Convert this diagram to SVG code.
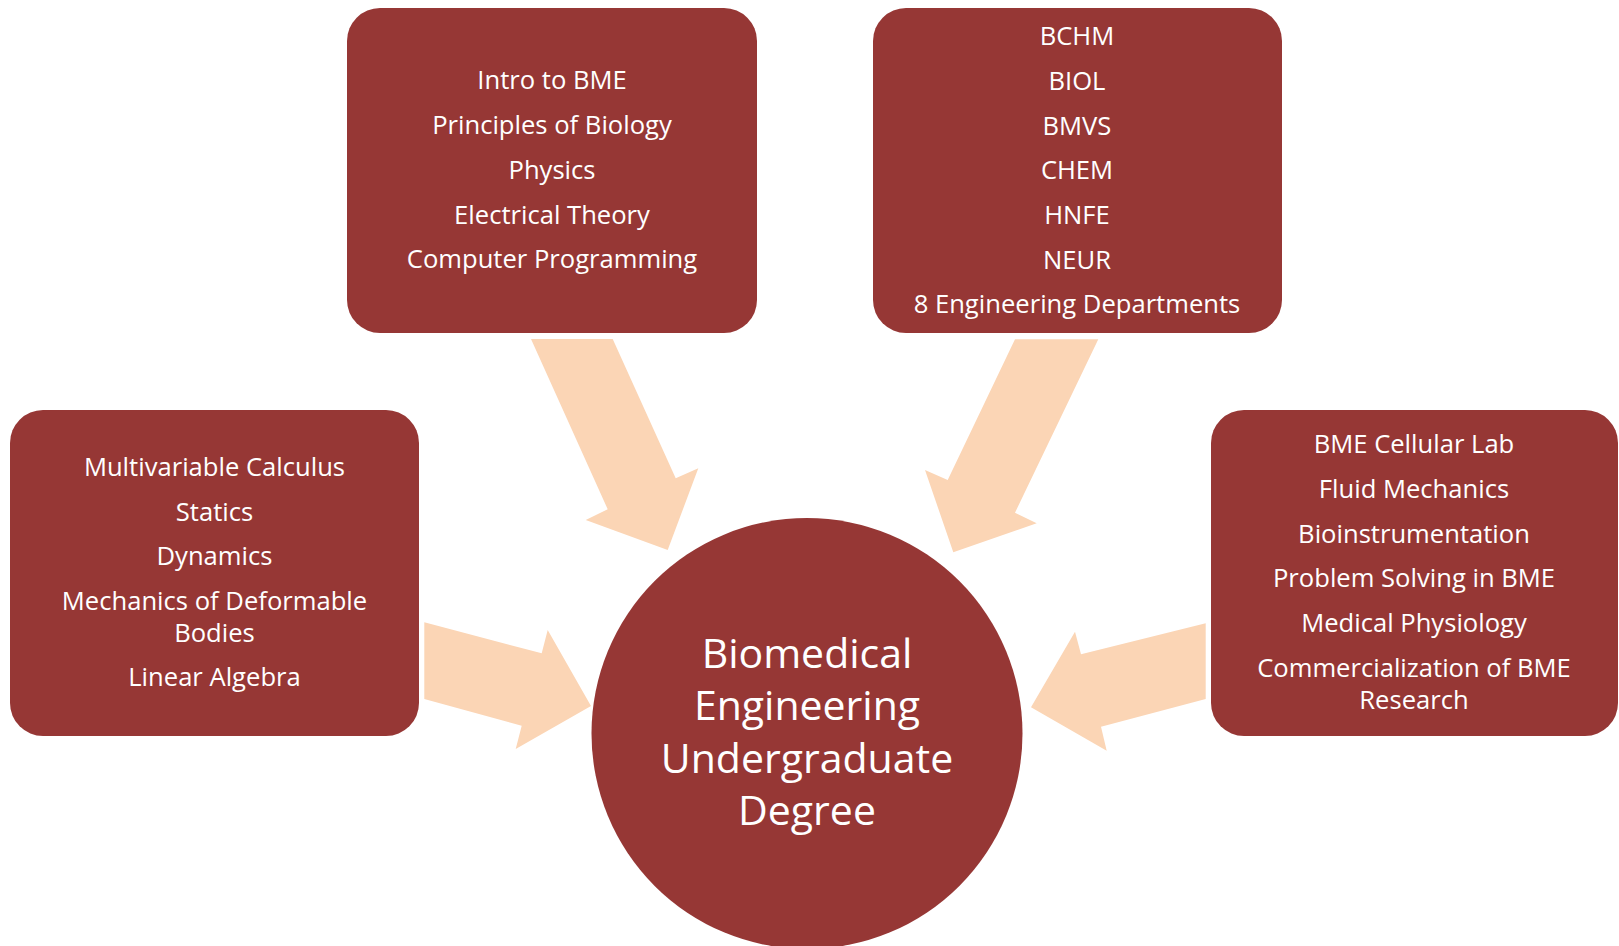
<svg xmlns="http://www.w3.org/2000/svg" width="1619" height="946" viewBox="0 0 1619 946">
<style>
.box{fill:#963735}
.arrow{fill:#FBD5B5}
text{font-family:"Open Sans","Liberation Sans",sans-serif;fill:#ffffff;text-anchor:middle}
.t{font-size:25.6px}
.c{font-size:41px}
</style>
<rect x="0" y="0" width="1619" height="946" fill="#ffffff"/>
<g id="connectors">
<polygon class="arrow" points="531,339 612.7,339 675.7,478.3 698.3,468.3 667.7,550 585.7,520 607.7,509.3"/>
<polygon class="arrow" points="1015,339.3 1098.3,339.3 1015,512.7 1036.7,523.3 953.3,552.3 925,470 947.7,480"/>
<polygon class="arrow" points="424.3,622.3 541.7,653.3 547.7,630 591,706 515.7,749 521.7,725.7 424.3,699"/>
<polygon class="arrow" points="1205.7,623.3 1205.7,699 1101,726.7 1106.7,750.7 1031,707.3 1075,631.7 1081,654.3"/>
</g>
<g id="node-intro">
<rect class="box" x="347" y="8" width="410" height="325" rx="33"/>
<text class="t" x="552" y="89">Intro to BME</text>
<text class="t" x="552" y="134">Principles of Biology</text>
<text class="t" x="552" y="179">Physics</text>
<text class="t" x="552" y="224">Electrical Theory</text>
<text class="t" x="552" y="268">Computer Programming</text>
</g>
<g id="node-departments">
<rect class="box" x="873" y="8" width="409" height="325" rx="33"/>
<text class="t" x="1077" y="45">BCHM</text>
<text class="t" x="1077" y="90">BIOL</text>
<text class="t" x="1077" y="135">BMVS</text>
<text class="t" x="1077" y="179">CHEM</text>
<text class="t" x="1077" y="224">HNFE</text>
<text class="t" x="1077" y="269">NEUR</text>
<text class="t" x="1077" y="313">8 Engineering Departments</text>
</g>
<g id="node-math">
<rect class="box" x="10" y="410" width="409" height="326" rx="33"/>
<text class="t" x="214.5" y="476">Multivariable Calculus</text>
<text class="t" x="214.5" y="521">Statics</text>
<text class="t" x="214.5" y="565">Dynamics</text>
<text class="t" x="214.5" y="610">Mechanics of Deformable</text>
<text class="t" x="214.5" y="642">Bodies</text>
<text class="t" x="214.5" y="686">Linear Algebra</text>
</g>
<g id="node-bme">
<rect class="box" x="1211" y="410" width="407" height="326" rx="33"/>
<text class="t" x="1414" y="453">BME Cellular Lab</text>
<text class="t" x="1414" y="498">Fluid Mechanics</text>
<text class="t" x="1414" y="543">Bioinstrumentation</text>
<text class="t" x="1414" y="587">Problem Solving in BME</text>
<text class="t" x="1414" y="632">Medical Physiology</text>
<text class="t" x="1414" y="677">Commercialization of BME</text>
<text class="t" x="1414" y="709">Research</text>
</g>
<g id="node-degree">
<circle class="box" cx="807" cy="733.5" r="215.5"/>
<text class="c" x="807" y="668">Biomedical</text>
<text class="c" x="807" y="720">Engineering</text>
<text class="c" x="807" y="773">Undergraduate</text>
<text class="c" x="807" y="825">Degree</text>
</g>
</svg>
